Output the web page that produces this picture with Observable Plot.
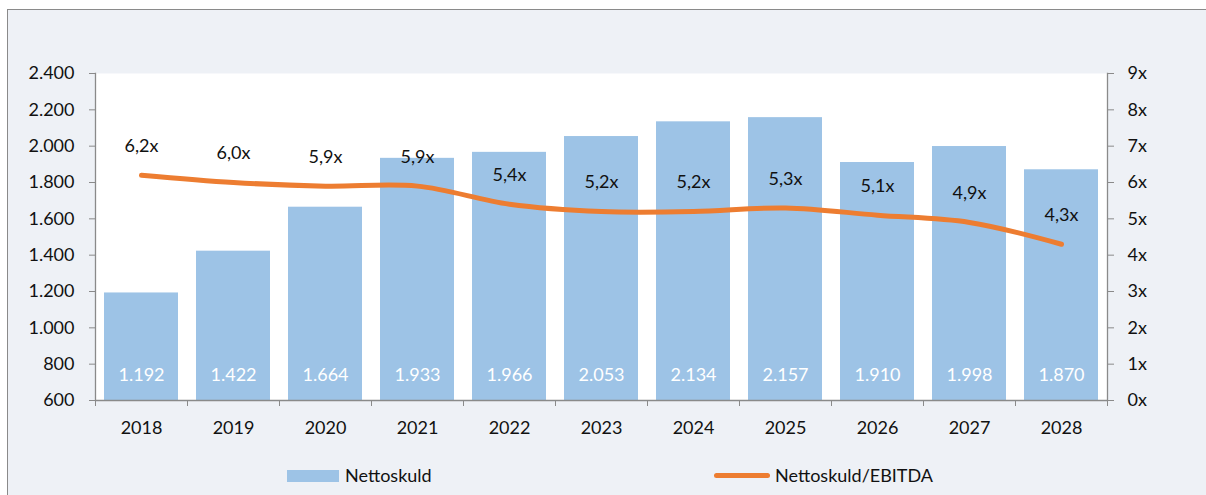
<!DOCTYPE html>
<html>
<head>
<meta charset="utf-8">
<script src="https://cdn.jsdelivr.net/npm/d3@7"></script>
<script src="https://cdn.jsdelivr.net/npm/@observablehq/plot@0.6"></script>
<style>
  html, body { margin: 0; padding: 0; background: #ffffff; }
  #wrap { position: relative; width: 1206px; height: 495px; overflow: hidden; font-family: Lato, "Open Sans", sans-serif; }
  #panel { position: absolute; left: 7px; top: 9px; width: 1210px; height: 500px; background: #eef1f6; border-left: 1px solid #8a8a8a; border-top: 1px solid #8a8a8a; }
  #chart { position: absolute; left: 0; top: 0; }
  .leg { position: absolute; font-size: 18px; color: #111; line-height: 1; }
</style>
</head>
<body>
<div id="wrap">
  <div id="panel"></div>
  <div id="chart"></div>
  <div id="legend"></div>
</div>
<script>
const years = ["2018","2019","2020","2021","2022","2023","2024","2025","2026","2027","2028"];
const nettoskuld = [1192,1422,1664,1933,1966,2053,2134,2157,1910,1998,1870];
const ratio = [6.2,6.0,5.9,5.9,5.4,5.2,5.2,5.3,5.1,4.9,4.3];
const leftTicks = [600,800,1000,1200,1400,1600,1800,2000,2200,2400];
const rightTicks = [0,1,2,3,4,5,6,7,8,9];
const seriesNames = ["Nettoskuld", "Nettoskuld/EBITDA"];

// map right-axis ratio onto left scale: 0x -> 600, 9x -> 2400
const yMin = 600, yMax = 2400;
const perX = (yMax - yMin) / 9;
const toLeft = r => yMin + r * perX;

const data = years.map((y, i) => ({year: y, debt: nettoskuld[i], ratio: ratio[i], ry: toLeft(ratio[i])}));

const loc = d3.formatLocale({decimal: ",", thousands: ".", grouping: [3], currency: ["", ""]});
const fmtInt = loc.format(",d");
const fmtRatio = v => loc.format(".1f")(v) + "x";

const axisColor = "#8a8a8a";
const font = "Lato, 'Open Sans', sans-serif";

const plot = Plot.plot({
  width: 1206,
  height: 495,
  marginTop: 73,
  marginBottom: 95,
  marginLeft: 95,
  marginRight: 99,
  style: {background: "transparent", fontFamily: font, fontSize: "18px", color: "#111"},
  x: {type: "band", domain: years, paddingInner: 0.2, paddingOuter: 0.1, axis: null, label: null},
  y: {domain: [yMin, yMax], axis: null, label: null},
  marks: [
    Plot.frame({fill: "white", stroke: "none"}),
    Plot.barY(data, {x: "year", y1: yMin, y2: "debt", fill: "#9dc3e6"}),
    Plot.ruleY([yMin], {stroke: axisColor, strokeWidth: 1.3}),
    Plot.frame({anchor: "left", stroke: axisColor, strokeWidth: 1.3}),
    Plot.frame({anchor: "right", stroke: axisColor, strokeWidth: 1.3}),
    Plot.axisY(leftTicks, {anchor: "left", label: null, tickSize: 6, tickPadding: 15, stroke: axisColor, tickFormat: fmtInt, fontSize: 18, fill: "#111"}),
    Plot.axisY(rightTicks.map(toLeft), {anchor: "right", label: null, tickSize: 6, tickPadding: 14, stroke: axisColor, tickFormat: v => Math.round((v - yMin) / perX) + "x", fontSize: 18, fill: "#111"}),
    Plot.axisX(years, {anchor: "bottom", label: null, tickSize: 6, stroke: axisColor, tickFormat: () => "", dx: -46}),
    Plot.axisX([years[years.length - 1]], {anchor: "bottom", label: null, tickSize: 6, stroke: axisColor, tickFormat: () => "", dx: 46}),
    Plot.axisX(years, {anchor: "bottom", label: null, tickSize: 0, tickPadding: 21, fontSize: 18, fill: "#111"}),
    Plot.text(data, {x: "year", frameAnchor: "bottom", lineAnchor: "middle", dy: -25, text: d => fmtInt(d.debt), fill: "white", fontSize: 18}),
    Plot.line(data, {x: "year", y: "ry", stroke: "#ed7d31", strokeWidth: 5, curve: "catmull-rom", strokeLinecap: "round"}),
    Plot.text(data, {x: "year", y: "ry", dy: -29, text: d => fmtRatio(d.ratio), fill: "#111", fontSize: 18})
  ]
});
document.getElementById("chart").appendChild(plot);

const legend = document.getElementById("legend");
legend.innerHTML = `
  <div style="position:absolute;left:287px;top:470px;width:52px;height:12px;background:#9dc3e6"></div>
  <div class="leg" style="left:345px;top:466px">${seriesNames[0]}</div>
  <div style="position:absolute;left:714px;top:473px;width:56px;height:5px;border-radius:3px;background:#ed7d31"></div>
  <div class="leg" style="left:775px;top:466px">${seriesNames[1]}</div>
`;
</script>
</body>
</html>
